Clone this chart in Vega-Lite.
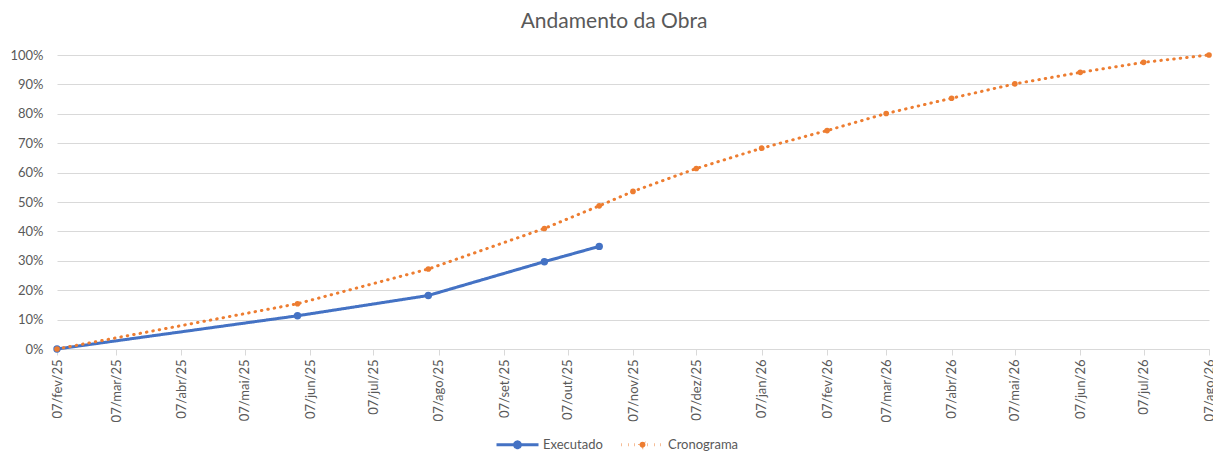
{
  "$schema": "https://vega.github.io/schema/vega-lite/v6.json",
  "width": 1152,
  "height": 294,
  "autosize": {"type": "none"},
  "padding": {"left": 57, "top": 55, "right": 4, "bottom": 104},
  "background": "white",
  "title": {
    "text": "Andamento da Obra",
    "font": "Lato",
    "fontSize": 21,
    "fontWeight": "normal",
    "color": "#595959",
    "anchor": "middle",
    "dx": -19,
    "offset": 17
  },
  "config": {
    "view": {"stroke": null},
    "font": "Lato"
  },
  "data": {
    "values": [
      {"serie": "Executado", "data": "2025-02-07T00:00:00", "valor": 0},
      {"serie": "Executado", "data": "2025-06-01T00:00:00", "valor": 0.113},
      {"serie": "Executado", "data": "2025-08-02T00:00:00", "valor": 0.182},
      {"serie": "Executado", "data": "2025-09-26T00:00:00", "valor": 0.297},
      {"serie": "Executado", "data": "2025-10-22T00:00:00", "valor": 0.349},
      {"serie": "Cronograma", "data": "2025-02-07T00:00:00", "valor": 0},
      {"serie": "Cronograma", "data": "2025-06-01T00:00:00", "valor": 0.154},
      {"serie": "Cronograma", "data": "2025-08-02T00:00:00", "valor": 0.272},
      {"serie": "Cronograma", "data": "2025-09-26T00:00:00", "valor": 0.41},
      {"serie": "Cronograma", "data": "2025-10-22T00:00:00", "valor": 0.487},
      {"serie": "Cronograma", "data": "2025-11-07T00:00:00", "valor": 0.536},
      {"serie": "Cronograma", "data": "2025-12-07T00:00:00", "valor": 0.614},
      {"serie": "Cronograma", "data": "2026-01-07T00:00:00", "valor": 0.683},
      {"serie": "Cronograma", "data": "2026-02-07T00:00:00", "valor": 0.743},
      {"serie": "Cronograma", "data": "2026-03-07T00:00:00", "valor": 0.801},
      {"serie": "Cronograma", "data": "2026-04-07T00:00:00", "valor": 0.853},
      {"serie": "Cronograma", "data": "2026-05-07T00:00:00", "valor": 0.902},
      {"serie": "Cronograma", "data": "2026-06-07T00:00:00", "valor": 0.941},
      {"serie": "Cronograma", "data": "2026-07-07T00:00:00", "valor": 0.975},
      {"serie": "Cronograma", "data": "2026-08-07T00:00:00", "valor": 1.0}
    ]
  },
  "encoding": {
    "x": {
      "field": "data",
      "type": "temporal",
      "scale": {
        "domain": [{"year": 2025, "month": 2, "date": 7}, {"year": 2026, "month": 8, "date": 7}],
        "nice": false
      },
      "axis": {
        "title": null,
        "grid": false,
        "values": [
          {"year": 2025, "month": 2, "date": 7}, {"year": 2025, "month": 3, "date": 7},
          {"year": 2025, "month": 4, "date": 7}, {"year": 2025, "month": 5, "date": 7},
          {"year": 2025, "month": 6, "date": 7}, {"year": 2025, "month": 7, "date": 7},
          {"year": 2025, "month": 8, "date": 7}, {"year": 2025, "month": 9, "date": 7},
          {"year": 2025, "month": 10, "date": 7}, {"year": 2025, "month": 11, "date": 7},
          {"year": 2025, "month": 12, "date": 7}, {"year": 2026, "month": 1, "date": 7},
          {"year": 2026, "month": 2, "date": 7}, {"year": 2026, "month": 3, "date": 7},
          {"year": 2026, "month": 4, "date": 7}, {"year": 2026, "month": 5, "date": 7},
          {"year": 2026, "month": 6, "date": 7}, {"year": 2026, "month": 7, "date": 7},
          {"year": 2026, "month": 8, "date": 7}
        ],
        "labelExpr": "timeFormat(datum.value, '%d') + '/' + ['jan','fev','mar','abr','mai','jun','jul','ago','set','out','nov','dez'][month(datum.value)] + '/' + timeFormat(datum.value, '%y')",
        "labelAngle": -90,
        "labelAlign": "right",
        "labelBaseline": "middle",
        "labelFont": "Lato",
        "labelFontSize": 13,
        "labelColor": "#595959",
        "labelPadding": 4,
        "labelOverlap": false,
        "labelFlush": false,
        "labelBound": false,
        "domainColor": "#D9D9D9",
        "domainWidth": 1,
        "tickColor": "#D9D9D9",
        "tickSize": 6,
        "tickWidth": 1
      }
    },
    "y": {
      "field": "valor",
      "type": "quantitative",
      "scale": {"domain": [0, 1], "nice": false},
      "axis": {
        "title": null,
        "values": [0, 0.1, 0.2, 0.3, 0.4, 0.5, 0.6, 0.7, 0.8, 0.9, 1.0],
        "format": ".0%",
        "domain": false,
        "ticks": false,
        "gridColor": "#D9D9D9",
        "gridWidth": 1,
        "labelFont": "Lato",
        "labelFontSize": 13,
        "labelColor": "#595959",
        "labelPadding": 14
      }
    },
    "color": {
      "field": "serie",
      "type": "nominal",
      "scale": {"domain": ["Executado", "Cronograma"], "range": ["#4472C4", "#ED7D31"]},
      "legend": {
        "title": null,
        "orient": "none",
        "direction": "horizontal",
        "legendX": 438,
        "legendY": 367,
        "symbolType": "M-1,0H1M-0.14,0A0.14,0.14,0,1,1,0.14,0A0.14,0.14,0,1,1,-0.14,0Z",
        "symbolSize": 1764,
        "symbolStrokeWidth": 3,
        "labelFont": "Lato",
        "labelFontSize": 13,
        "labelColor": "#595959",
        "labelOffset": 3,
        "columnPadding": 12,
        "encode": {
          "symbols": {
            "update": {
              "fill": {"scale": "color", "field": "value"},
              "strokeWidth": {"value": 3}
            }
          }
        }
      }
    },
    "strokeDash": {
      "field": "serie",
      "type": "nominal",
      "scale": {"domain": ["Executado", "Cronograma"], "range": [[1, 0], [0.5, 6]]},
      "legend": null
    }
  },
  "layer": [
    {
      "mark": {"type": "line", "strokeWidth": 3, "strokeCap": "round", "strokeJoin": "round"}
    },
    {
      "mark": {"type": "point", "filled": true, "opacity": 1, "shape": "circle"},
      "encoding": {
        "size": {
          "condition": {"test": "datum.serie === 'Executado'", "value": 55},
          "value": 32
        },
        "strokeDash": {"value": [1, 0]}
      }
    }
  ]
}
